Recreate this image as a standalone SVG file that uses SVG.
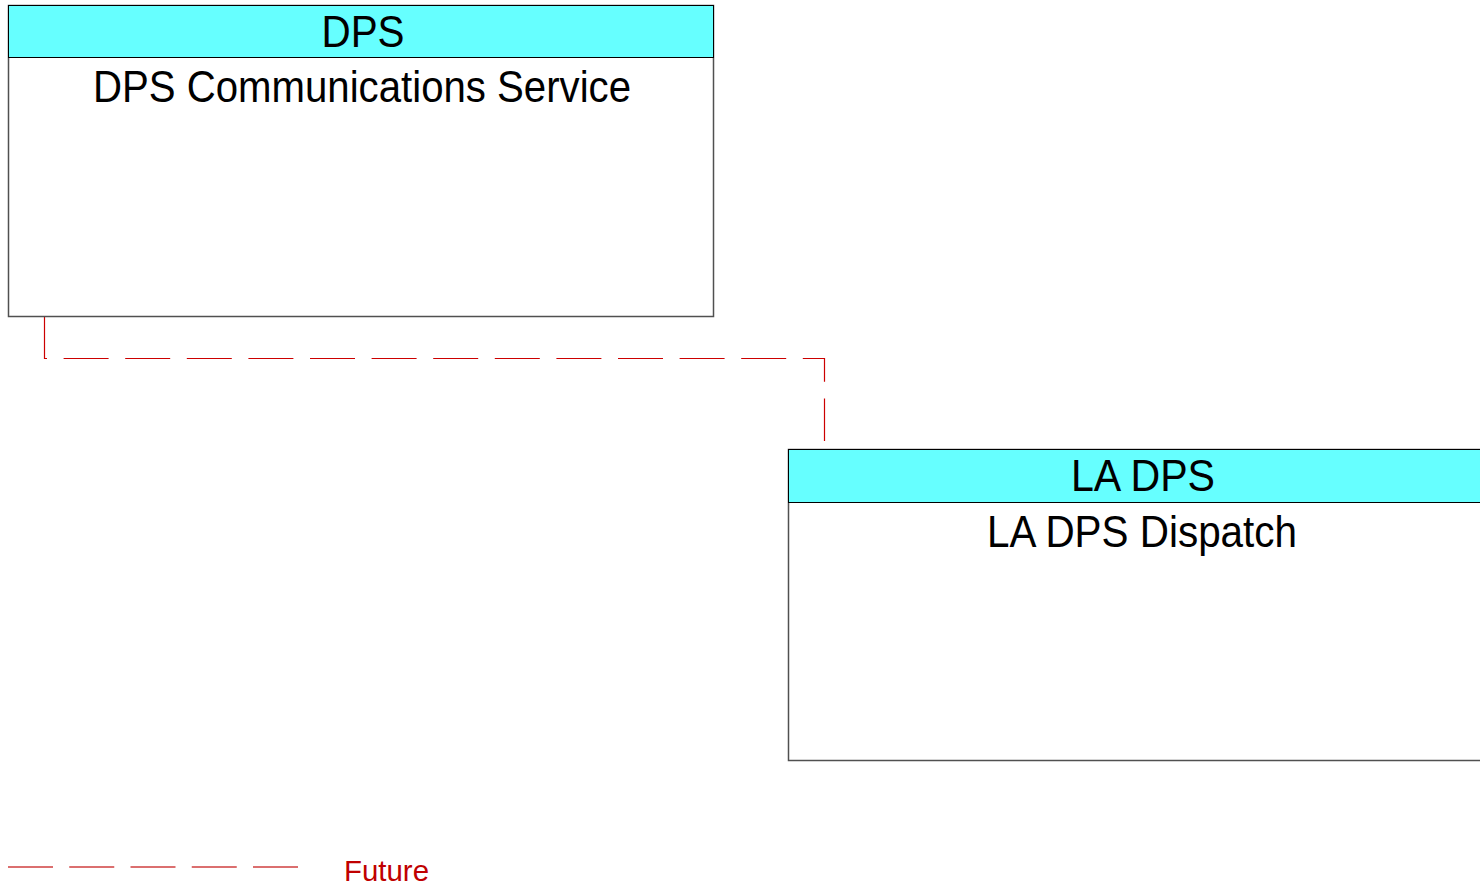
<svg xmlns="http://www.w3.org/2000/svg" width="1480" height="887" viewBox="0 0 1480 887">
<style>
.box{fill:#ffffff;stroke:#505050;stroke-width:1.5}
.hdr{fill:#66ffff;stroke:#000000;stroke-width:1}
.t{font-family:"Liberation Sans",Arial,sans-serif;font-size:45px;fill:#000000;text-anchor:middle}
.conn{fill:none;stroke:#cc0000;stroke-width:1.2;stroke-dasharray:45 16.6}
.leg{fill:none;stroke:#d04040;stroke-width:1.6;stroke-dasharray:45 16.25}
.lt{font-family:"Liberation Sans",Arial,sans-serif;font-size:30px;fill:#c00000}
</style>
<rect width="1480" height="887" fill="#ffffff"/>
<g id="connectors">
<path class="conn" d="M44.5,316 L44.5,358.5 L824.5,358.5 L824.5,441"/>
</g>
<g id="node-dps">
<rect class="box" x="8.5" y="5.5" width="705" height="311"/>
<rect class="hdr" x="8.5" y="5.5" width="705" height="52"/>
<text class="t" x="363" y="47" textLength="83" lengthAdjust="spacingAndGlyphs">DPS</text>
<text class="t" x="362" y="102" textLength="538" lengthAdjust="spacingAndGlyphs">DPS Communications Service</text>
</g>
<g id="node-la-dps">
<rect class="box" x="788.5" y="449.5" width="705" height="311"/>
<rect class="hdr" x="788.5" y="449.5" width="705" height="53"/>
<text class="t" x="1143" y="491" textLength="144" lengthAdjust="spacingAndGlyphs">LA DPS</text>
<text class="t" x="1142" y="547" textLength="310" lengthAdjust="spacingAndGlyphs">LA DPS Dispatch</text>
</g>
<g id="legend">
<path class="leg" d="M8,867 L298,867"/>
<text class="lt" x="344" y="881" textLength="85" lengthAdjust="spacingAndGlyphs">Future</text>
</g>
</svg>
